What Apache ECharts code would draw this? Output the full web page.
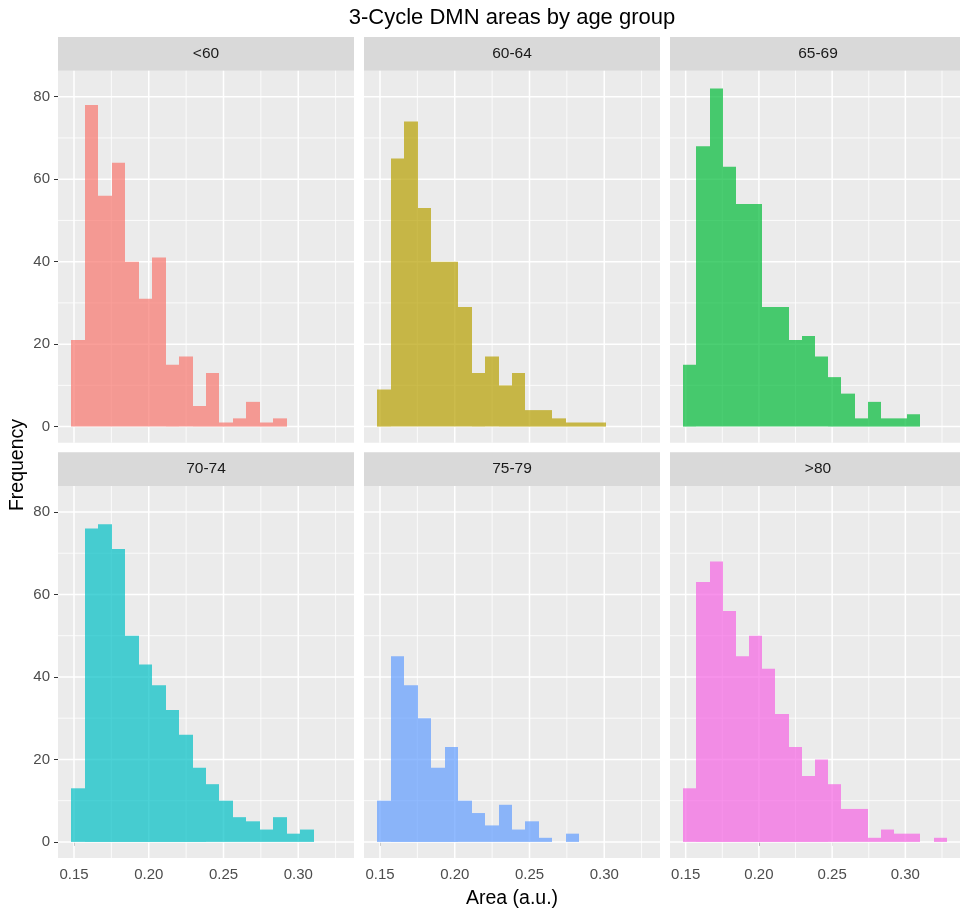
<!DOCTYPE html>
<html>
<head>
<meta charset="utf-8">
<script src="https://cdn.jsdelivr.net/npm/echarts@6/dist/echarts.min.js"></script>
<style>
  html, body { margin: 0; padding: 0; background: #ffffff; }
  #chart { width: 960px; height: 914px; }
</style>
</head>
<body>
<div id="chart"></div>
<script>
// Facet labels (age groups) in reading order
const groups = ['<60', '60-64', '65-69', '70-74', '75-79', '>80'];

// Histogram bins: common origin and width for every facet
const binStart = 0.1483;
const binWidth = 0.009;

// Counts per bin, one array per age group
const countsUnder60 = [21, 78, 56, 64, 40, 31, 41, 15, 17, 5, 13, 1, 2, 6, 1, 2];
const counts60to64  = [9, 65, 74, 53, 40, 40, 29, 13, 17, 10, 13, 4, 4, 2, 1, 1, 1];
const counts65to69  = [15, 68, 82, 63, 54, 54, 29, 29, 21, 22, 17, 12, 8, 2, 6, 2, 2, 3];
const counts70to74  = [13, 76, 77, 71, 50, 43, 38, 32, 26, 18, 14, 10, 6, 5, 3, 6, 2, 3];
const counts75to79  = [10, 45, 38, 30, 18, 23, 10, 7, 4, 9, 3, 5, 1, 0, 2];
const countsOver80  = [13, 63, 68, 56, 45, 50, 42, 31, 23, 16, 20, 14, 8, 8, 1, 3, 2, 2, 0, 1];

// Axis ticks
const xTicks = [0.15, 0.20, 0.25, 0.30];
const xMinorTicks = [0.175, 0.225, 0.275, 0.325];
const yTicks = [0, 20, 40, 60, 80];
const yMinorTicks = [10, 30, 50, 70];

// Hue palette for the six groups
const groupColors = ['#F8766D', '#B79F00', '#00BA38', '#00BFC4', '#619CFF', '#F564E3'];

const allCounts = [countsUnder60, counts60to64, counts65to69, counts70to74, counts75to79, countsOver80];

// ---- layout ----
const FONT = '"Liberation Sans", Arial, sans-serif';
const xRange = [0.1393, 0.3373];
const yRange = [-3.9, 86.3];
const panelLefts = [58, 364, 670];
const panelWidth = 296;
const panelHeight = 372;
const rowStripTops = [37, 452.3];
const stripHeight = 33.7;

const chart = echarts.init(document.getElementById('chart'), null, { renderer: 'canvas' });

const grids = [], xAxes = [], yAxes = [], series = [], graphics = [];

// Gridline records: [value, isHorizontal, isMajor]
const gridLineData = [];
xTicks.forEach(v => gridLineData.push([v, 0, 1]));
xMinorTicks.forEach(v => gridLineData.push([v, 0, 0]));
yTicks.forEach(v => gridLineData.push([v, 1, 1]));
yMinorTicks.forEach(v => gridLineData.push([v, 1, 0]));

function renderGridLine(params, api) {
  const v = api.value(0);
  const horizontal = api.value(1);
  const major = api.value(2);
  const cs = params.coordSys;
  let shape;
  if (horizontal) {
    const p = api.coord([xRange[0], v]);
    shape = { x1: cs.x, y1: p[1], x2: cs.x + cs.width, y2: p[1] };
  } else {
    const p = api.coord([v, yRange[0]]);
    shape = { x1: p[0], y1: cs.y, x2: p[0], y2: cs.y + cs.height };
  }
  return {
    type: 'line',
    shape: shape,
    style: { stroke: '#ffffff', lineWidth: major ? 1.5 : 0.8 }
  };
}

function renderBin(params, api) {
  const x0 = api.value(0);
  const n = api.value(1);
  const x1 = api.value(2);
  if (!n) return null;
  const a = api.coord([x0, n]);
  const b = api.coord([x1, 0]);
  // snap horizontal edges so neighbouring bins meet without seams
  const left = Math.round(a[0]);
  const right = Math.round(b[0]);
  return {
    type: 'rect',
    shape: { x: left, y: a[1], width: right - left, height: b[1] - a[1] },
    style: api.style()
  };
}

groups.forEach((name, i) => {
  const row = Math.floor(i / 3);
  const col = i % 3;
  const left = panelLefts[col];
  const top = rowStripTops[row] + stripHeight;
  const bottomRow = row === 1;
  const leftCol = col === 0;

  grids.push({
    left: left, top: top, width: panelWidth, height: panelHeight,
    show: true, backgroundColor: '#EBEBEB', borderWidth: 0
  });

  xAxes.push({
    type: 'value', gridIndex: i, min: xRange[0], max: xRange[1],
    axisLine: { show: false },
    splitLine: { show: false },
    axisTick: { show: bottomRow, length: 4, customValues: xTicks, lineStyle: { color: '#333333', width: 1 } },
    axisLabel: {
      show: bottomRow, customValues: xTicks, margin: 9,
      formatter: v => v.toFixed(2),
      color: '#4D4D4D', fontSize: 15, fontFamily: FONT
    }
  });

  yAxes.push({
    type: 'value', gridIndex: i, min: yRange[0], max: yRange[1],
    axisLine: { show: false },
    splitLine: { show: false },
    axisTick: { show: leftCol, length: 4, customValues: yTicks, lineStyle: { color: '#333333', width: 1 } },
    axisLabel: {
      show: leftCol, customValues: yTicks, margin: 8,
      color: '#4D4D4D', fontSize: 15, fontFamily: FONT
    }
  });

  // panel gridlines (beneath the bars)
  series.push({
    type: 'custom', name: 'grid-' + i, xAxisIndex: i, yAxisIndex: i,
    z: 1, silent: true,
    encode: { x: 0, y: 0 },
    renderItem: renderGridLine,
    data: gridLineData
  });

  // histogram bars
  const binData = allCounts[i].map((n, k) => {
    const x0 = binStart + k * binWidth;
    return [x0, n, x0 + binWidth];
  });
  series.push({
    type: 'custom', name: name, xAxisIndex: i, yAxisIndex: i,
    z: 2,
    encode: { x: [0, 2], y: 1 },
    itemStyle: { color: groupColors[i], opacity: 0.7 },
    renderItem: renderBin,
    data: binData
  });

  // facet strip
  graphics.push({
    type: 'rect', silent: true,
    shape: { x: left, y: rowStripTops[row], width: panelWidth, height: stripHeight },
    style: { fill: '#D9D9D9' }
  });
  graphics.push({
    type: 'text', silent: true,
    x: left + panelWidth / 2, y: rowStripTops[row] + stripHeight / 2,
    style: {
      text: name, fill: '#1A1A1A', font: '15.5px ' + FONT,
      textAlign: 'center', textVerticalAlign: 'middle'
    }
  });
});

// chart title and axis titles
graphics.push({
  type: 'text', silent: true, x: 512, y: 18,
  style: {
    text: '3-Cycle DMN areas by age group', fill: '#000000', font: '22px ' + FONT,
    textAlign: 'center', textVerticalAlign: 'middle'
  }
});
graphics.push({
  type: 'text', silent: true, x: 512, y: 899,
  style: {
    text: 'Area (a.u.)', fill: '#000000', font: '19.5px ' + FONT,
    textAlign: 'center', textVerticalAlign: 'middle'
  }
});
graphics.push({
  type: 'text', silent: true, x: 18, y: 465, rotation: Math.PI / 2,
  style: {
    text: 'Frequency', fill: '#000000', font: '19.5px ' + FONT,
    textAlign: 'center', textVerticalAlign: 'middle'
  }
});

chart.setOption({
  animation: false,
  backgroundColor: '#ffffff',
  grid: grids,
  xAxis: xAxes,
  yAxis: yAxes,
  series: series,
  graphic: { elements: graphics }
});
</script>
</body>
</html>
